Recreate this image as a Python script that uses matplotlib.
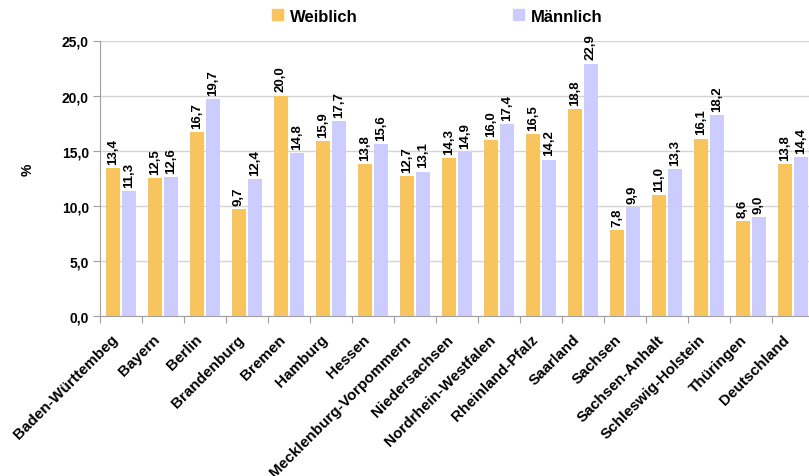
import numpy as np
import matplotlib
matplotlib.use("Agg")
import matplotlib.pyplot as plt
from matplotlib.patches import Patch

laender = ["Baden-Württembeg", "Bayern", "Berlin", "Brandenburg", "Bremen",
           "Hamburg", "Hessen", "Mecklenburg-Vorpommern", "Niedersachsen",
           "Nordrhein-Westfalen", "Rheinland-Pfalz", "Saarland", "Sachsen",
           "Sachsen-Anhalt", "Schleswig-Holstein", "Thüringen", "Deutschland"]
weiblich = [13.4, 12.5, 16.7, 9.7, 20.0, 15.9, 13.8, 12.7, 14.3,
            16.0, 16.5, 18.8, 7.8, 11.0, 16.1, 8.6, 13.8]
maennlich = [11.3, 12.6, 19.7, 12.4, 14.8, 17.7, 15.6, 13.1, 14.9,
             17.4, 14.2, 22.9, 9.9, 13.3, 18.2, 9.0, 14.4]
yticks = [0, 5, 10, 15, 20, 25]

plt.rcParams['font.family'] = ['Liberation Sans', 'DejaVu Sans']
plt.rcParams['font.weight'] = 'bold'

c_w = '#F8C45E'
c_m = '#CCCCFF'

W, H = 809, 477
fig = plt.figure(figsize=(W / 100, H / 100), dpi=100)
# plot area runs a little past the right edge of the image
ax = fig.add_axes([100 / W, 1 - 317 / H, 714 / W, 275.5 / H])

x = np.arange(len(laender))
bw = 14 / 42
ax.bar(x + 6 / 42, weiblich, bw, align='edge', color=c_w, zorder=3)
ax.bar(x + 22 / 42, maennlich, bw, align='edge', color=c_m, zorder=3)

def fmt(v):
    return f"{v:.1f}".replace('.', ',')

for xi, v in zip(x, weiblich):
    ax.annotate(fmt(v), (xi + 13 / 42, v), xytext=(0, 3),
                textcoords='offset points', rotation=90, ha='center', va='bottom',
                fontsize=9.5, fontweight='bold', zorder=4)
for xi, v in zip(x, maennlich):
    ax.annotate(fmt(v), (xi + 29 / 42, v), xytext=(0, 3),
                textcoords='offset points', rotation=90, ha='center', va='bottom',
                fontsize=9.5, fontweight='bold', zorder=4)

# category names, rotated, hanging below each group
for xi, name in zip(x, laender):
    ax.annotate(name, (xi + 0.5, 0), xytext=(-4, -15), textcoords='offset points',
                rotation=45, rotation_mode='anchor', ha='right', va='center',
                fontsize=11, fontweight='bold', annotation_clip=False)

ax.set_xlim(0, len(laender))
ax.set_ylim(0, 25)
ax.set_yticks(yticks)
ax.set_yticklabels([fmt(t) for t in yticks], fontsize=10, fontweight='bold')
ax.set_xticks(np.arange(len(laender) + 1))
ax.set_xticklabels([])
ax.tick_params(axis='x', length=5, color='#A0A0A0')
ax.tick_params(axis='y', length=5, color='#A0A0A0', pad=3)

ax.grid(axis='y', color='#D4D4D4', linewidth=1, zorder=0)
for s in ['top', 'right']:
    ax.spines[s].set_visible(False)
for s in ['left', 'bottom']:
    ax.spines[s].set_color('#A0A0A0')

fig.text(28 / W, 1 - 170 / H, '%', rotation=90, ha='center', va='center',
         fontsize=10, fontweight='bold')

handles = [Patch(color=c_w, label='Weiblich'), Patch(color=c_m, label='Männlich')]
fig.legend(handles=handles, loc='center', bbox_to_anchor=(437 / W, 1 - 17 / H),
           ncol=2, frameon=False, handlelength=0.66,
           handleheight=0.66, handletextpad=0.42, columnspacing=9.3,
           prop={'weight': 'bold', 'size': 12})

fig.savefig('out.png', dpi=100)
